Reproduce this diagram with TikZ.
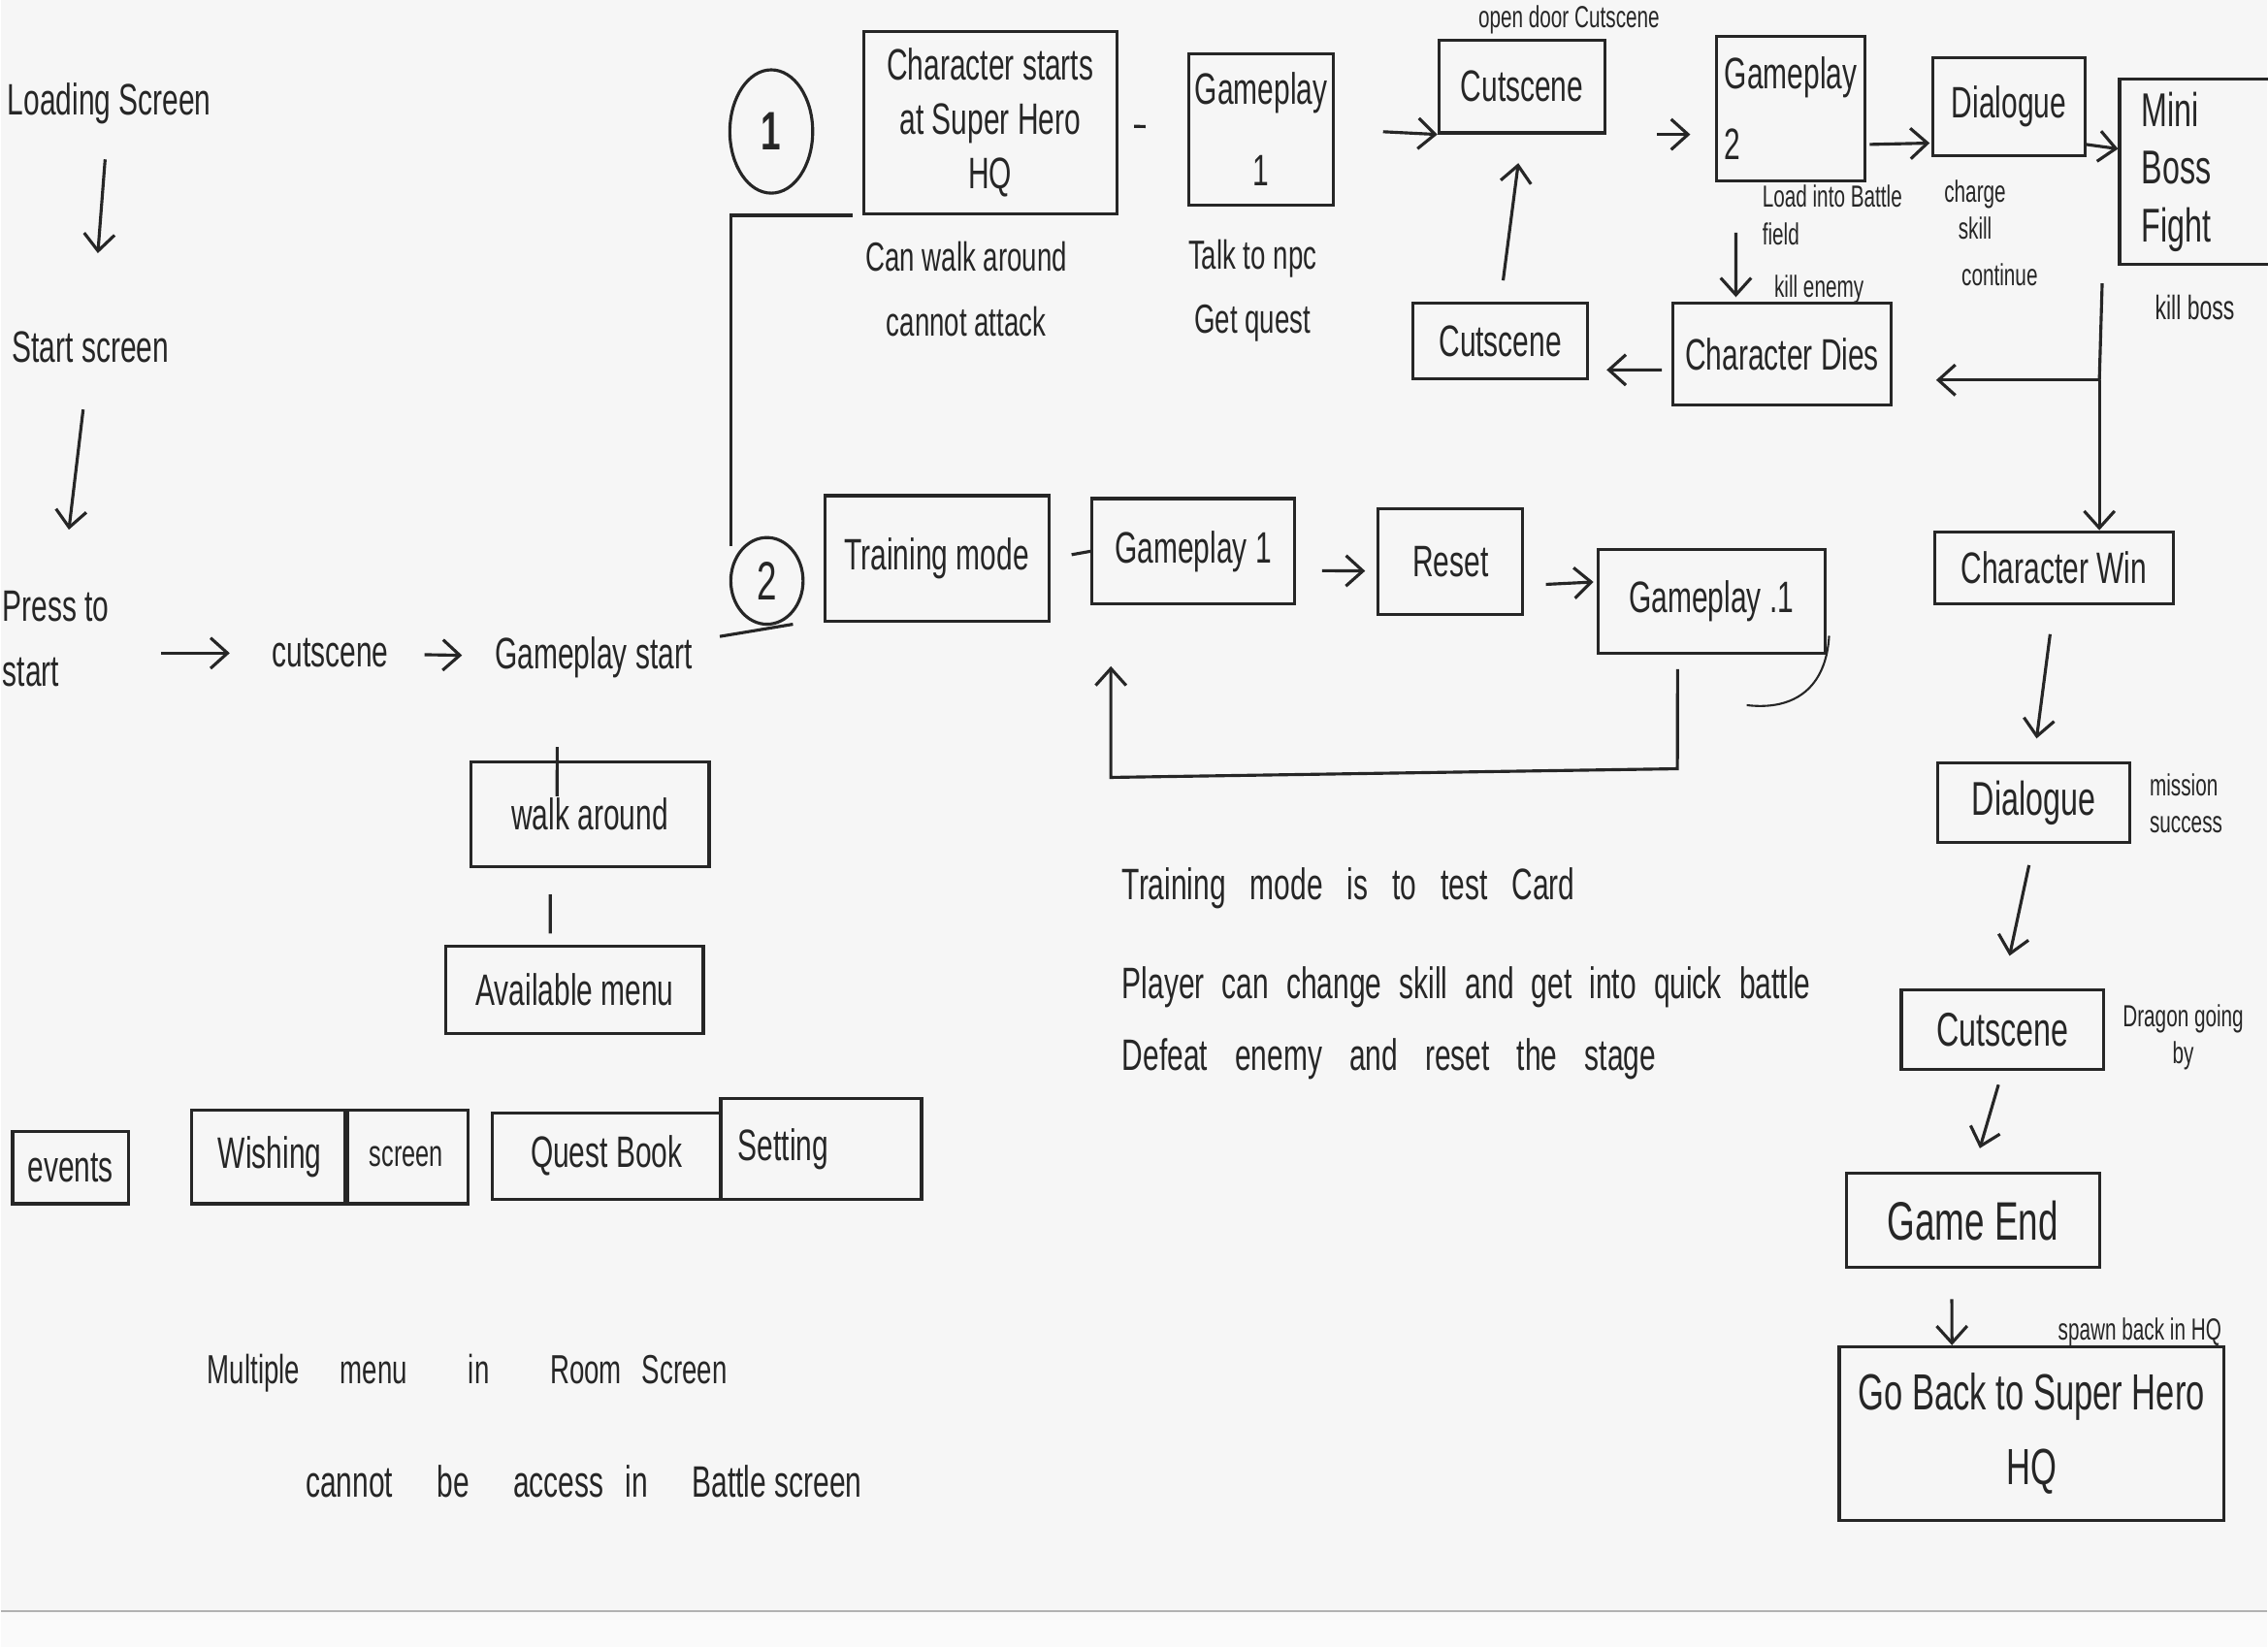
\documentclass[tikz,border=0pt]{standalone}
\usepackage{fontspec}
\setmainfont[FakeStretch=0.66]{Liberation Sans}
\usetikzlibrary{arrows.meta,shapes.geometric}
\definecolor{ink}{HTML}{262626}
\definecolor{paper}{HTML}{F6F6F6}
% \mybox[opts]{name}{x1}{y1}{x2}{y2}{text}
\newcommand\mybox[7][]{%
  \node[box,#1, minimum width={(#5-#3)*0.015cm}, minimum height={(#6-#4)*0.015cm}]
    (#2) at ({(#3+#5)/2},{(#4+#6)/2}) {#7};}
\begin{document}
\begin{tikzpicture}[x=0.015cm,y=-0.015cm,
  every node/.style={text=ink},
  txt/.style={inner sep=1pt, font=\fontsize{13}{16}\selectfont, align=center},
  note/.style={inner sep=1pt, font=\fontsize{12}{15}\selectfont, align=left},
  wide/.style={inner sep=1pt, align=left, font=\fontsize{13}{15}\selectfont},
  small/.style={inner sep=1pt, font=\fontsize{9}{11}\selectfont, align=left},
  box/.style={draw=ink, line width=0.9pt, inner sep=0pt, font=\fontsize{13}{16}\selectfont, align=center},
  circ/.style={draw=ink, line width=0.9pt, ellipse, inner sep=0pt, font=\fontsize{16}{18}\selectfont},
  arr/.style={draw=ink, line width=0.9pt, -{Straight Barb[length=5pt,width=9pt]}},
  ln/.style={draw=ink, line width=0.9pt}
]
\fill[paper] (0,0) rectangle (1568,1115);
\fill[white!98!black] (0,1115) rectangle (1568,1140);
\draw[black!30, line width=0.6pt] (0,1115) -- (1568,1115);
\useasboundingbox (0,0) rectangle (1568,1140);

% ---------- left column ----------
\node[txt] (load) at (75,72) {Loading Screen};
\node[txt] (startscr) at (62,240) {Start screen};
\node[txt, align=left, font=\fontsize{13}{19}\selectfont] (press) at (38,442) {Press to\\start};
\node[txt] (cut0) at (228,452) {cutscene};
\node[txt] (gstart) at (410,455) {Gameplay start};

\draw[arr, shorten <=0.32cm, shorten >=0.77cm] (load) -- (startscr);
\draw[arr, shorten <=0.45cm, shorten >=0.6cm] (startscr) -- (press);
\draw[arr, shorten <=0.5cm, shorten >=0.4cm] (press.east |- cut0) -- (cut0);
\draw[arr, shorten <=0.33cm, shorten >=0.3cm] (cut0) -- (gstart);

% ---------- branch circles ----------
\node[circ, minimum width=0.86cm, minimum height=1.28cm] (c1) at (533,91) {\textbf{1}};
\node[circ, minimum width=0.75cm, minimum height=0.9cm] (c2) at (530,402) {2};
\coordinate (j2) at (548,432);
\coordinate (jb) at (505,378);
\draw[ln, shorten <=0.25cm] (gstart) -- (j2);

% ---------- top row ----------
\mybox{hq}{597}{22}{772}{148}{Character starts\\at Super Hero\\HQ}
\mybox{gp1}{822}{37}{922}{142}{Gameplay\\[8pt]1}
\mybox{cs1}{995}{28}{1110}{92}{Cutscene}
\mybox[align=left]{gp2}{1187}{25}{1290}{125}{Gameplay\\[5pt]2}
\mybox{dlg1}{1337}{40}{1442}{108}{Dialogue}
\mybox[font=\fontsize{14}{17}\selectfont, text width=1.25cm, align=left]{boss}{1466}{55}{1580}{183}{Mini\\Boss\\Fight}
\mybox{csd}{977}{210}{1098}{262}{Cutscene}
\mybox{dies}{1157}{210}{1308}{280}{Character Dies}

\draw[ln, shorten >=0.1cm] (jb) |- (hq.south west);
\draw[ln, shorten <=0.165cm, shorten >=0.435cm] (hq) -- (gp1);
\draw[arr, shorten <=0.5cm] (gp1.east) -- (cs1.south west);
\draw[arr, shorten <=0.525cm, shorten >=0.255cm] (cs1.south east) -- (cs1.south east -| gp2.west);
\draw[arr, shorten <=0.03cm, shorten >=0.02cm] ([yshift=-0.375cm]gp2.east) -- ([yshift=-0.375cm]dlg1.west);
\draw[arr] ([yshift=-0.39cm]dlg1.east) -- ([yshift=0.24cm]boss.west);
\draw[arr, shorten <=0.225cm, shorten >=0.3cm] (csd.north) -- (cs1.south);
\draw[arr, shorten <=0.1cm, shorten >=0.18cm] ([yshift=-0.165cm]dies.west) -- ([yshift=-0.3cm]csd.east);
\draw[arr, shorten <=0.525cm, shorten >=0.05cm] ([xshift=-0.57cm]gp2.south) -- ([xshift=-0.48cm]dies.north);

\node[small] (opendoor) at (1085,14) {open door Cutscene};
\node[small, anchor=west] (loadinto) at (1216,149) {Load into Battle\\field};
\node[small] (killen) at (1258,200) {kill enemy};
\node[small, align=center] (charge) at (1366,145) {charge\\skill};
\node[small] (cont) at (1383,190) {continue};
\node[small, font=\fontsize{10}{12}\selectfont] (killboss) at (1518,213) {kill boss};
\node[note, align=center, font=\fontsize{12}{19}\selectfont] (canwalk) at (668,200) {Can walk around\\cannot attack};
\node[note, align=center, font=\fontsize{12}{19}\selectfont] (talk) at (866,201) {Talk to npc\\Get quest};

% ---------- right column ----------
\coordinate (bj) at (1452,263);
\mybox{win}{1338}{368}{1503}{418}{Character Win}
\mybox[font=\fontsize{14}{16}\selectfont]{dlg2}{1340}{528}{1473}{583}{Dialogue}
\mybox[font=\fontsize{14}{16}\selectfont]{cs3}{1315}{685}{1455}{740}{Cutscene}
\mybox[font=\fontsize{16}{18}\selectfont]{gend}{1277}{812}{1452}{877}{Game End}
\mybox[font=\fontsize{15}{22}\selectfont]{goback}{1272}{932}{1538}{1052}{Go Back to Super Hero\\HQ}

\draw[ln] ([xshift=-0.165cm,yshift=-0.18cm]boss.south west) -- (bj);
\draw[arr] (bj) -- (bj |- win.north);
\draw[arr, shorten >=0.45cm] (bj) -- (bj -| dies.east);
\draw[arr, shorten <=0.3cm, shorten >=0.24cm] (win.south) -- (dlg2.north);
\draw[arr, shorten <=0.225cm, shorten >=0.345cm] (dlg2.south) -- (cs3.north);
\draw[arr, shorten <=0.15cm, shorten >=0.255cm] (cs3.south) -- (gend.north);
\draw[arr, shorten <=0.315cm] ([xshift=-0.22cm]gend.south) -- ([xshift=-0.825cm]goback.north);

\node[small] (mission) at (1512,556) {mission\\success};
\node[small, align=center] (dragon) at (1510,718) {Dragon going\\by};
\node[small] (spawn) at (1480,922) {spawn back in HQ};

% ---------- middle row ----------
\mybox{train}{570}{343}{725}{430}{Training mode}
\mybox{gpA}{755}{345}{895}{418}{Gameplay 1}
\mybox{reset}{953}{352}{1053}{425}{Reset}
\mybox{gpB}{1105}{380}{1262}{452}{Gameplay .1}

\draw[ln, shorten <=0.225cm] (train.east) -- (gpA.west);
\draw[arr, shorten <=0.27cm, shorten >=0.12cm] ([yshift=-0.2cm]gpA.east) -- ([yshift=-0.1cm]reset.west);
\draw[arr, shorten <=0.225cm, shorten >=0.03cm] ([yshift=-0.25cm]reset.east) -- ([yshift=0.2cm]gpB.west);
\coordinate (lp1) at (1160,532);
\coordinate (lp2) at (768,538);
\draw[arr, shorten <=0.15cm, shorten >=0.63cm] ([xshift=-0.35cm]gpB.south) -- (lp1) -- (lp2) -- (lp2 |- gpA.south);
\draw[ln, line width=0.6pt] (1265,440) .. controls (1263,475) and (1242,492) .. (1208,488);

% ---------- notes ----------
\node[wide, anchor=west] (n1) at (773,615) {\spaceskip=0.55em\relax Training mode is to test Card};
\node[wide, anchor=west] (n2) at (773,683) {\spaceskip=0.4em\relax Player can change skill and get into quick battle};
\node[wide, anchor=west] (n3) at (773,733) {\spaceskip=0.62em\relax Defeat enemy and reset the stage};

% ---------- menus ----------
\mybox{walk}{325}{527}{490}{600}{walk around}
\mybox{avail}{308}{655}{486}{715}{Available menu}
\draw[ln, shorten <=0.675cm, shorten >=-0.375cm] ([xshift=-0.375cm]gstart.south) -- ([xshift=-0.34cm]walk.north);
\draw[ln, shorten <=0.27cm, shorten >=0.12cm] ([xshift=-0.41cm]walk.south) -- ([xshift=-0.255cm]avail.north);

\mybox{ev}{8}{783}{88}{833}{events}
\mybox{wish}{132}{768}{240}{833}{Wishing}
\mybox[font=\fontsize{11}{13}\selectfont]{scr}{238}{768}{323}{833}{screen}
\mybox{quest}{340}{770}{498}{830}{Quest Book}
\mybox[text width=1.725cm, align=left]{sett}{498}{760}{637}{830}{Setting}

\node[note, anchor=west] (m1) at (140,950) {Multiple\quad menu\quad\enspace in\quad\enspace Room\enspace Screen};
\node[note, anchor=west, font=\fontsize{13}{15}\selectfont] (m2) at (208,1025) {cannot\quad be\quad access\enspace in\quad Battle screen};
\end{tikzpicture}
\end{document}
